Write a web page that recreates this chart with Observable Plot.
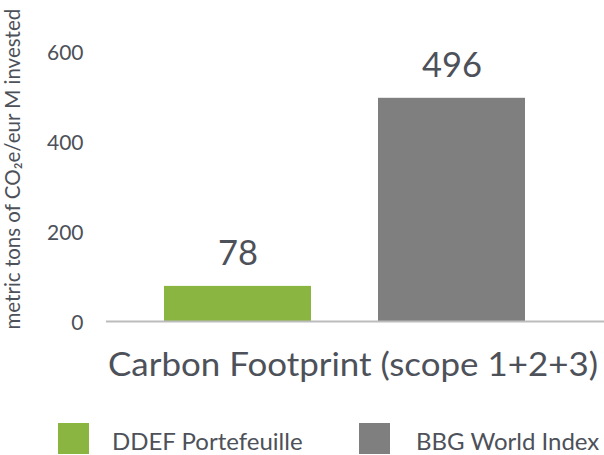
<!DOCTYPE html>
<html>
<head>
<meta charset="utf-8">
<script src="https://cdn.jsdelivr.net/npm/d3@7"></script>
<script src="https://cdn.jsdelivr.net/npm/@observablehq/plot@0.6"></script>
<style>
  html, body { margin: 0; padding: 0; width: 604px; height: 455px; overflow: hidden; background: #fff; }
  #wrap { position: relative; width: 604px; height: 455px; font-family: Lato, "Open Sans", sans-serif; color: #4d5159; }
  #chart { position: absolute; left: 0; top: 0; }
  #title { position: absolute; left: 108px; top: 348.3px; font-size: 32px; line-height: 32px; white-space: nowrap; transform-origin: 0 50%; }
  .sw { position: absolute; width: 31px; height: 31px; top: 423px; }
  .lt { position: absolute; font-size: 24px; line-height: 24px; top: 428.5px; white-space: nowrap; }
</style>
</head>
<body>
<div id="wrap">
  <div id="chart"></div>
  <div id="title"></div>
  <div id="legend"></div>
</div>
<script>
const categories = ["DDEF Portefeuille", "BBG World Index"];
const values = [78, 496];
const colors = ["#8ab540", "#7f7f7f"];
const yTicks = [0, 200, 400, 600];
const yLabel = "metric tons of CO₂e/eur M invested";
const chartTitle = "Carbon Footprint (scope 1+2+3)";

const data = categories.map((c, i) => ({category: c, value: values[i]}));

const plot = Plot.plot({
  width: 604,
  height: 340,
  marginLeft: 106,
  marginRight: 0,
  marginTop: 51,
  marginBottom: 19,
  style: {fontFamily: "Lato, 'Open Sans', sans-serif", color: "#4d5159", background: "transparent", overflow: "visible"},
  x: {domain: categories, range: [96, 593], padding: 0.312, axis: null},
  y: {domain: [0, 600], axis: null},
  color: {domain: categories, range: colors},
  marks: [
    Plot.barY(data, {x: "category", y: "value", fill: "category"}),
    Plot.ruleY([0], {stroke: "#bcbcbc", strokeWidth: 2}),
    Plot.axisY({ticks: yTicks, tickSize: 0, tickPadding: 23, label: null, fontSize: 21, dy: 1.5, fill: "#4d5159"}),
    Plot.text(data, {x: "category", y: "value", text: d => String(d.value), lineAnchor: "bottom", dy: -21, fontSize: 34.5, fill: "#4d5159"}),
    Plot.text([yLabel], {frameAnchor: "bottom-left", text: d => d, rotate: -90, textAnchor: "start", lineAnchor: "middle", dx: -93, dy: 8, fontSize: 20.5, fill: "#4d5159"})
  ]
});
document.getElementById("chart").appendChild(plot);

const titleEl = document.getElementById("title");
titleEl.textContent = chartTitle;
// stretch horizontally to the reference width (ink from x≈110 to x≈598)
const w = titleEl.getBoundingClientRect().width;
titleEl.style.transform = `scaleX(${490 / w})`;

const legend = document.getElementById("legend");
const swX = [58, 359];
const txX = [112, 416];
categories.forEach((c, i) => {
  const s = document.createElement("div");
  s.className = "sw";
  s.style.left = swX[i] + "px";
  s.style.background = colors[i];
  legend.appendChild(s);
  const t = document.createElement("div");
  t.className = "lt";
  t.style.left = txX[i] + "px";
  t.textContent = c;
  legend.appendChild(t);
});
</script>
</body>
</html>
